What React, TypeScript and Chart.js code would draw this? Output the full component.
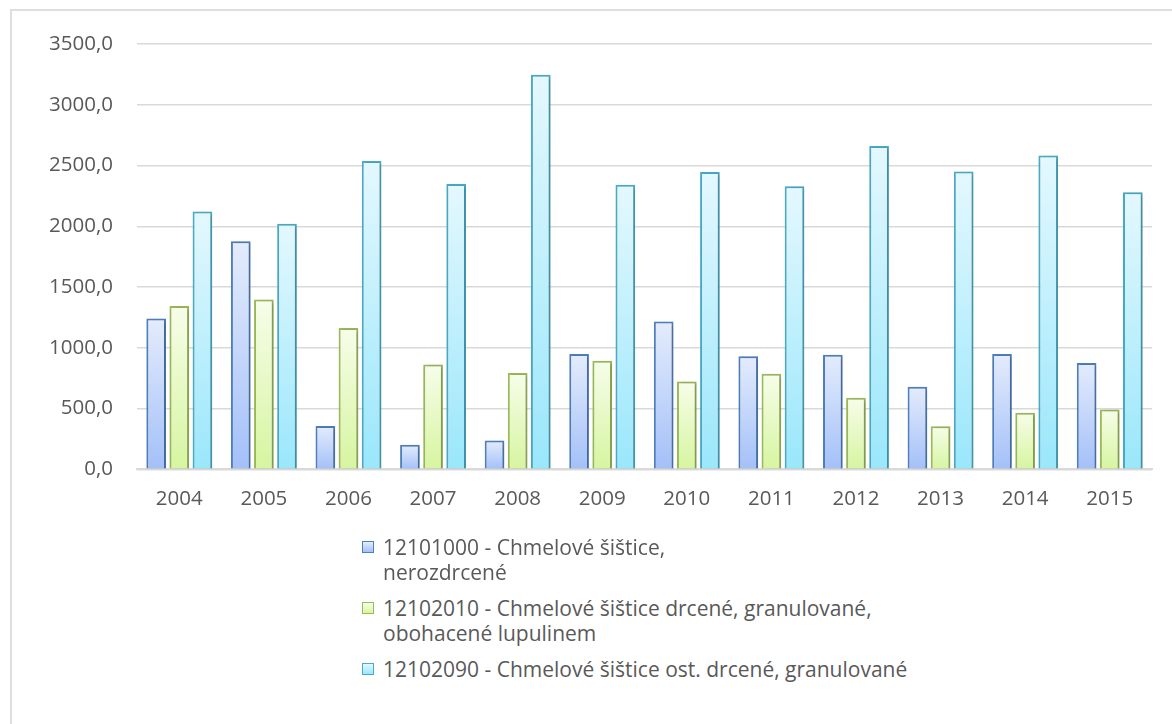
import React, { useEffect, useRef } from 'react';
import { Chart, registerables } from 'chart.js';

Chart.register(...registerables);

const years = ['2004', '2005', '2006', '2007', '2008', '2009', '2010', '2011', '2012', '2013', '2014', '2015'];
const seriesNerozdrcene = [1241, 1878, 358, 202, 237, 950, 1216, 930, 944, 680, 950, 876];
const seriesLupulin = [1345, 1397, 1164, 864, 793, 894, 724, 787, 589, 356, 466, 493];
const seriesOstatni = [2121, 2021, 2537, 2348, 3246, 2343, 2447, 2329, 2661, 2450, 2582, 2280];
const seriesLabels = [
  '12101000 - Chmelové šištice, nerozdrcené',
  '12102010 - Chmelové šištice drcené, granulované, obohacené lupulinem',
  '12102090 - Chmelové šištice ost. drcené, granulované',
];
const legendLines = [
  ['12101000 - Chmelové šištice,', 'nerozdrcené'],
  ['12102010 - Chmelové šištice drcené, granulované,', 'obohacené lupulinem'],
  ['12102090 - Chmelové šištice ost. drcené, granulované'],
];
const yTicks = [0, 500, 1000, 1500, 2000, 2500, 3000, 3500];

const palette = [
  { top: '#e4ecfc', bottom: '#a3c0f8', border: '#4f7fc0' },
  { top: '#f7fdea', bottom: '#d6f5a0', border: '#9bbb59' },
  { top: '#e4f8fe', bottom: '#9ae7fb', border: '#4aabc6' },
];

const FONT = '"Open Sans", "Liberation Sans", sans-serif';
const TEXT = '#595959';

function gradientFor(top: string, bottom: string) {
  return (ctx: any) => {
    const chart = ctx.chart;
    const scales = chart.scales;
    if (!chart.chartArea || ctx.type !== 'data' || !scales || !scales.y) return bottom;
    const v = ctx.parsed && ctx.parsed.y !== undefined ? ctx.parsed.y : ctx.raw;
    const yTop = scales.y.getPixelForValue(v);
    const yBot = scales.y.getPixelForValue(0);
    if (!isFinite(yTop) || !isFinite(yBot) || Math.abs(yBot - yTop) < 1) return bottom;
    const g = chart.ctx.createLinearGradient(0, yTop, 0, yBot);
    g.addColorStop(0, top);
    g.addColorStop(1, bottom);
    return g;
  };
}

const shadowPlugin = {
  id: 'barShadow',
  beforeDatasetsDraw(chart: any) {
    const c = chart.ctx;
    c.save();
    c.shadowColor = 'rgba(0,0,0,0.22)';
    c.shadowBlur = 4;
    c.shadowOffsetX = 2;
    c.shadowOffsetY = 1;
  },
  afterDatasetsDraw(chart: any) {
    chart.ctx.restore();
  },
};

export default function App() {
  const canvasRef = useRef<HTMLCanvasElement | null>(null);

  useEffect(() => {
    if (!canvasRef.current) return;
    const series = [seriesNerozdrcene, seriesLupulin, seriesOstatni];
    const chart = new Chart(canvasRef.current, {
      type: 'bar',
      data: {
        labels: years,
        datasets: series.map((data, i) => ({
          label: seriesLabels[i],
          data,
          backgroundColor: gradientFor(palette[i].top, palette[i].bottom),
          borderColor: palette[i].border,
          borderWidth: 2,
          categoryPercentage: 0.82,
          barPercentage: 0.85,
        })),
      },
      options: {
        responsive: false,
        animation: false,
        devicePixelRatio: 1,
        layout: { padding: { top: 44, right: 20, bottom: 20, left: 0 } },
        plugins: {
          legend: { display: false },
          tooltip: { enabled: false },
        },
        scales: {
          x: {
            grid: { display: false, drawTicks: false },
            border: { display: true, color: '#d9d9d9', width: 2 },
            ticks: { color: TEXT, font: { family: FONT, size: 20.5 }, padding: 17 },
          },
          y: {
            min: 0,
            max: 3500,
            afterFit: (scale: any) => {
              scale.width = 137;
            },
            afterBuildTicks: (scale: any) => {
              scale.ticks = yTicks.map((v) => ({ value: v }));
            },
            grid: { color: '#d9d9d9', lineWidth: 1.6, drawTicks: false },
            border: { display: false },
            ticks: {
              color: TEXT,
              font: { family: FONT, size: 20.5 },
              padding: 24,
              callback: (v: any) => Number(v).toFixed(1).replace('.', ','),
            },
          },
        },
      },
      plugins: [shadowPlugin],
    });
    return () => chart.destroy();
  }, []);

  const itemTops = [535, 596, 657];

  return (
    <div style={{ position: 'fixed', left: 0, top: 0, width: 1172, height: 724, background: '#fff', overflow: 'hidden', fontFamily: FONT }}>
      <div style={{ position: 'absolute', left: 10, top: 9, width: 1200, height: 800, borderLeft: '2px solid #dedede', borderTop: '2px solid #dedede' }} />
      <canvas ref={canvasRef} width={1172} height={548} style={{ position: 'absolute', left: 0, top: 0, width: 1172, height: 548 }} />
      {legendLines.map((lines, i) => (
        <div key={i} style={{ position: 'absolute', left: 362, top: itemTops[i], color: TEXT, fontSize: 21, lineHeight: '25px', whiteSpace: 'nowrap' }}>
          <div
            style={{
              position: 'absolute',
              left: 0,
              top: 6,
              width: 10,
              height: 10,
              border: `1.5px solid ${palette[i].border}`,
              background: `linear-gradient(${palette[i].top}, ${palette[i].bottom})`,
            }}
          />
          <div style={{ marginLeft: 21 }}>
            {lines.map((l, j) => (
              <div key={j}>{l}</div>
            ))}
          </div>
        </div>
      ))}
    </div>
  );
}
